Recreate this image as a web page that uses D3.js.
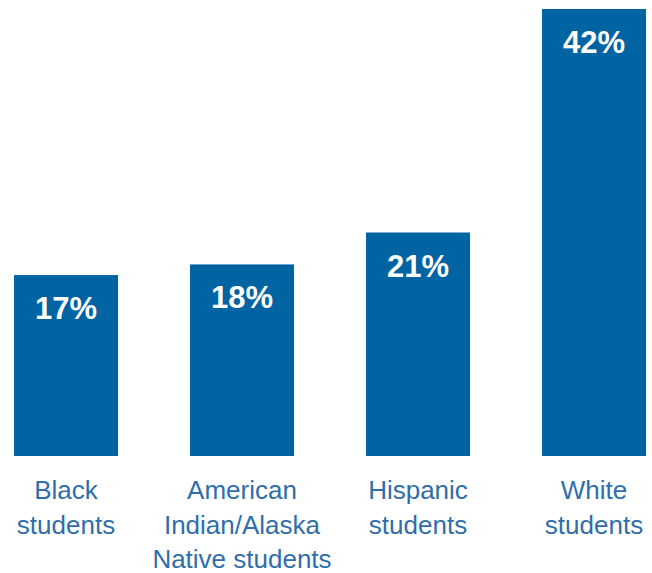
<!DOCTYPE html>
<html>
<head>
<meta charset="utf-8">
<script src="https://cdn.jsdelivr.net/npm/d3@7"></script>
<style>
  body { margin: 0; background: #fff; }
  svg { display: block; }
</style>
</head>
<body>
<div id="chart"></div>
<script>
const groups = ['Black', 'AmericanIndian', 'Hispanic', 'White'];
const labels = [['Black', 'students'], ['American', 'Indian/Alaska', 'Native students'], ['Hispanic', 'students'], ['White', 'students']];
const values = [17, 18, 21, 42];

const width = 652, height = 573;
const baseY = 456;

const svg = d3.select('#chart').append('svg')
    .attr('width', width)
    .attr('height', height);

const x = d3.scaleBand().domain(groups).range([14, 646]).paddingInner(0.4091).paddingOuter(0);
const y = d3.scaleLinear().domain([0, 42]).range([baseY, 9]);

const bars = svg.selectAll('.bar')
    .data(groups)
    .enter().append('g');

bars.append('rect')
    .attr('x', d => x(d))
    .attr('y', (d, i) => y(values[i]))
    .attr('width', x.bandwidth())
    .attr('height', (d, i) => baseY - y(values[i]))
    .attr('fill', '#0063a2');

bars.append('text')
    .attr('x', d => x(d) + x.bandwidth() / 2)
    .attr('y', (d, i) => y(values[i]) + 44)
    .attr('text-anchor', 'middle')
    .attr('fill', '#fff')
    .style('font-family', 'Liberation Sans, Arial, sans-serif')
    .style('font-weight', 'bold')
    .style('font-size', '31px')
    .text((d, i) => values[i] + '%');

bars.each(function(d, i) {
    const t = d3.select(this).append('text')
        .attr('text-anchor', 'middle')
        .attr('fill', '#2f6eab')
        .style('font-family', 'Liberation Sans, Arial, sans-serif')
        .style('font-size', '26px');
    labels[i].forEach((line, j) => {
        t.append('tspan')
            .attr('x', x(d) + x.bandwidth() / 2)
            .attr('y', 499 + j * 34.5)
            .text(line);
    });
});
</script>
</body>
</html>
